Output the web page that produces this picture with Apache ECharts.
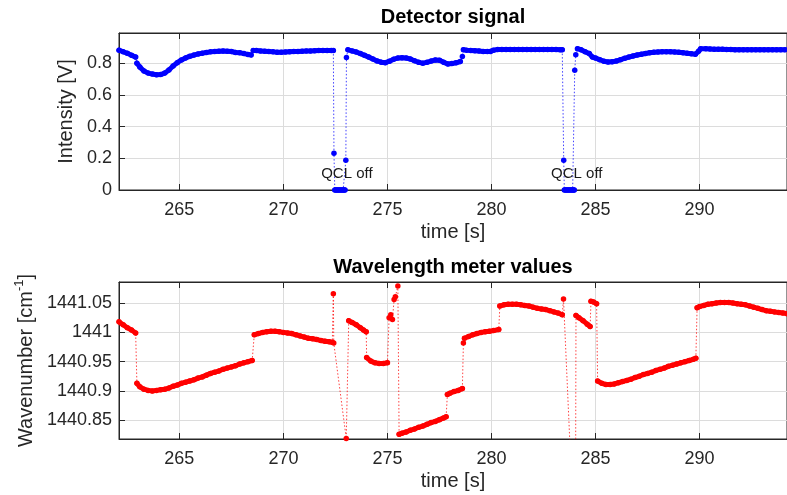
<!DOCTYPE html>
<html>
<head>
<meta charset="utf-8">
<script src="https://cdn.jsdelivr.net/npm/echarts@6/dist/echarts.min.js"></script>
<style>html,body{margin:0;padding:0;background:#fff}#c{width:787px;height:495px}</style>
</head>
<body>
<div id="c"></div>
<script>
// ---------- data ----------
const timeRange = [262.1, 294.2];
const intensityRange = [0, 0.99];
const wavenumberRange = [1440.818, 1441.086];

// Detector signal: [time s, intensity V]
const detectorSignal = [
[262.1,0.882],[262.3,0.872],[262.5,0.862],[262.7,0.850],[262.9,0.838],[262.96,0.800],[263.1,0.775],[263.3,0.750],
[263.5,0.737],[263.7,0.731],[263.9,0.727],[264.1,0.728],[264.3,0.737],[264.5,0.757],[264.7,0.782],[264.9,0.803],
[265.1,0.820],[265.3,0.833],[265.5,0.843],[265.7,0.851],[265.9,0.858],[266.1,0.863],[266.3,0.867],[266.5,0.871],
[266.7,0.873],[266.9,0.875],[267.1,0.876],[267.3,0.875],[267.5,0.873],[267.7,0.867],[267.9,0.866],[268.1,0.860],
[268.3,0.855],[268.45,0.852],[268.55,0.880],[268.7,0.879],[268.9,0.877],[269.1,0.875],[269.3,0.873],[269.5,0.871],
[269.7,0.869],[269.9,0.868],[270.1,0.870],[270.3,0.872],[270.5,0.873],[270.7,0.874],[270.9,0.875],[271.1,0.876],
[271.3,0.877],[271.5,0.878],[271.7,0.879],[271.9,0.879],[272.1,0.880],[272.3,0.880],[272.4,0.880],
[272.43,0.232],[272.47,0],[272.52,0],[272.57,0],[272.62,0],[272.67,0],[272.72,0],[272.77,0],[272.82,0],[272.87,0],[272.92,0],[272.96,0],
[273.0,0.187],[273.03,0.836],[273.1,0.884],[273.3,0.877],[273.5,0.870],[273.7,0.860],[273.9,0.849],[274.1,0.838],
[274.3,0.826],[274.5,0.814],[274.7,0.806],[274.9,0.803],[275.1,0.812],[275.3,0.825],[275.5,0.832],[275.7,0.834],
[275.9,0.832],[276.1,0.826],[276.3,0.815],[276.5,0.805],[276.7,0.800],[276.9,0.805],[277.1,0.813],[277.3,0.820],
[277.5,0.818],[277.7,0.805],[277.9,0.795],[278.1,0.797],[278.3,0.802],[278.5,0.810],[278.6,0.842],[278.65,0.884],
[278.8,0.882],[279.0,0.880],[279.2,0.878],[279.4,0.876],[279.6,0.874],[279.8,0.873],[279.95,0.874],[280.1,0.882],
[280.3,0.886],[280.5,0.886],[280.7,0.886],[280.9,0.886],[281.1,0.886],[281.3,0.886],[281.5,0.886],[281.7,0.886],
[281.9,0.886],[282.1,0.886],[282.3,0.886],[282.5,0.886],[282.7,0.886],[282.9,0.886],[283.1,0.886],[283.3,0.885],[283.4,0.885],
[283.47,0.187],[283.5,0],[283.55,0],[283.6,0],[283.65,0],[283.7,0],[283.75,0],[283.8,0],[283.85,0],[283.9,0],[283.95,0],[283.98,0],
[284.0,0.755],[284.05,0.853],[284.13,0.891],[284.3,0.885],[284.5,0.872],[284.7,0.860],[284.85,0.838],[285.0,0.832],
[285.2,0.822],[285.4,0.812],[285.6,0.807],[285.8,0.808],[286.0,0.813],[286.2,0.822],[286.4,0.830],[286.6,0.838],
[286.8,0.845],[287.0,0.851],[287.2,0.856],[287.4,0.861],[287.6,0.865],[287.8,0.868],[288.0,0.870],[288.2,0.872],
[288.4,0.872],[288.6,0.871],[288.8,0.870],[289.0,0.868],[289.2,0.865],[289.4,0.862],[289.6,0.859],[289.8,0.856],
[289.95,0.875],[290.05,0.890],[290.3,0.890],[290.5,0.889],[290.7,0.888],[290.9,0.887],[291.1,0.887],[291.3,0.886],
[291.5,0.886],[291.7,0.885],[291.9,0.885],[292.1,0.885],[292.3,0.885],[292.5,0.885],[292.7,0.885],[292.9,0.885],
[293.1,0.885],[293.3,0.885],[293.5,0.885],[293.7,0.885],[293.9,0.885],[294.1,0.885]
];

// Wavelength meter: [time s, wavenumber cm^-1]
const wavenumber = [
[262.1,1441.018],[262.3,1441.013],[262.5,1441.008],[262.7,1441.004],[262.9,1440.999],
[262.96,1440.913],[263.1,1440.907],[263.3,1440.903],[263.5,1440.901],[263.7,1440.900],[263.9,1440.901],[264.1,1440.902],
[264.3,1440.903],[264.5,1440.905],[264.7,1440.908],[264.9,1440.910],[265.1,1440.913],[265.3,1440.915],[265.5,1440.917],
[265.7,1440.919],[265.9,1440.922],[266.1,1440.924],[266.3,1440.927],[266.5,1440.930],[266.7,1440.932],[266.9,1440.934],
[267.1,1440.937],[267.3,1440.939],[267.5,1440.941],[267.7,1440.943],[267.9,1440.946],[268.1,1440.948],[268.3,1440.950],
[268.5,1440.952],[268.6,1440.996],[268.8,1440.998],[269.0,1441.000],[269.2,1441.001],[269.4,1441.002],[269.6,1441.002],
[269.8,1441.001],[270.0,1441.000],[270.2,1440.999],[270.4,1440.998],[270.6,1440.996],[270.8,1440.994],[271.0,1440.992],
[271.2,1440.990],[271.4,1440.989],[271.6,1440.988],[271.8,1440.986],[272.0,1440.985],[272.2,1440.984],[272.35,1440.983],
[272.4,1441.066],[272.42,1440.982],[273.02,1440.819],
[273.14,1441.020],[273.3,1441.017],[273.5,1441.013],[273.7,1441.008],[273.85,1441.004],[273.98,1441.001],
[274.0,1440.957],[274.2,1440.951],[274.4,1440.948],[274.6,1440.947],[274.8,1440.947],[275.0,1440.948],
[275.08,1441.025],[275.16,1441.030],[275.24,1441.022],[275.32,1441.056],[275.38,1441.061],[275.5,1441.079],
[275.56,1440.826],[275.7,1440.828],[275.9,1440.830],[276.1,1440.833],[276.3,1440.835],[276.5,1440.838],[276.7,1440.840],
[276.9,1440.843],[277.1,1440.846],[277.3,1440.848],[277.5,1440.851],[277.7,1440.854],[277.82,1440.856],
[277.88,1440.894],[278.0,1440.896],[278.2,1440.899],[278.4,1440.901],[278.6,1440.904],
[278.65,1440.982],[278.7,1440.990],[278.9,1440.993],[279.1,1440.996],[279.3,1440.998],[279.5,1441.000],[279.7,1441.001],
[279.9,1441.002],[280.1,1441.003],[280.35,1441.005],
[280.4,1441.045],[280.6,1441.047],[280.8,1441.048],[281.0,1441.048],[281.2,1441.048],[281.4,1441.047],[281.6,1441.046],
[281.8,1441.045],[282.0,1441.043],[282.2,1441.041],[282.4,1441.040],[282.6,1441.039],[282.8,1441.037],[283.0,1441.035],
[283.2,1441.033],[283.4,1441.030],[283.46,1441.057],[284.03,1440.600],
[284.06,1441.029],[284.2,1441.025],[284.4,1441.020],[284.6,1441.014],[284.74,1441.010],
[284.78,1441.053],[284.9,1441.052],[285.05,1441.049],
[285.1,1440.917],[285.3,1440.913],[285.5,1440.911],[285.7,1440.911],[285.9,1440.912],[286.1,1440.914],[286.3,1440.916],
[286.5,1440.918],[286.7,1440.920],[286.9,1440.923],[287.1,1440.925],[287.3,1440.928],[287.5,1440.930],[287.7,1440.932],
[287.9,1440.935],[288.1,1440.937],[288.3,1440.939],[288.5,1440.942],[288.7,1440.944],[288.9,1440.946],[289.1,1440.948],
[289.3,1440.950],[289.5,1440.952],[289.7,1440.954],[289.82,1440.956],
[289.88,1441.042],[290.0,1441.044],[290.2,1441.046],[290.4,1441.048],[290.6,1441.049],[290.8,1441.050],[291.0,1441.051],
[291.2,1441.051],[291.4,1441.051],[291.6,1441.050],[291.8,1441.049],[292.0,1441.048],[292.2,1441.047],[292.4,1441.045],
[292.6,1441.043],[292.8,1441.041],[293.0,1441.039],[293.2,1441.037],[293.4,1441.036],[293.6,1441.035],[293.8,1441.034],
[294.0,1441.033],[294.2,1441.032]
];

// Annotations on the detector plot
const qclNotes = [
  {text: 'QCL off', t: 273.05, v: 0.1},
  {text: 'QCL off', t: 284.1, v: 0.1}
];

const titles = ['Detector signal', 'Wavelength meter values'];
const xLabel = 'time [s]';
const yLabels = ['Intensity [V]', '{n|Wavenumber [cm}{s|-1}{n|]}'];

// ---------- chart ----------
const FONT = 'Liberation Sans, Arial, Helvetica, sans-serif';
const AX = '#262626';
const GRID = '#dcdcdc';
const chart = echarts.init(document.getElementById('c'), null, {renderer: 'canvas'});

// dense-marker look: join runs of neighbouring samples (break where the slope is a jump)
function runs(data, maxSlope) {
  const out = [];
  for (let i = 0; i < data.length; i++) {
    if (i > 0) {
      const dt = data[i][0] - data[i - 1][0];
      const dv = Math.abs(data[i][1] - data[i - 1][1]);
      if (dv / dt > maxSlope) out.push([(data[i][0] + data[i - 1][0]) / 2, null]);
    }
    out.push(data[i]);
  }
  return out;
}

function bottomX(gi) {
  return {
    gridIndex: gi, type: 'value', position: 'bottom',
    min: timeRange[0], max: timeRange[1], splitNumber: 6,
    axisLine: {show: true, onZero: false, lineStyle: {color: AX, width: 1}},
    axisTick: {show: true, inside: true, length: 6, lineStyle: {color: AX}},
    axisLabel: {show: true, showMinLabel: false, showMaxLabel: false, fontSize: 18, color: AX,
      fontFamily: FONT, margin: 11, formatter: v => String(Math.round(v))},
    splitLine: {show: true, lineStyle: {color: GRID, width: 1}},
    name: xLabel, nameLocation: 'middle', nameGap: 32,
    nameTextStyle: {fontSize: 20, color: AX, fontFamily: FONT}
  };
}
function topX(gi, title, gap) {
  return {
    gridIndex: gi, type: 'value', position: 'top',
    min: timeRange[0], max: timeRange[1], splitNumber: 6,
    axisLine: {show: true, onZero: false, lineStyle: {color: AX, width: 1}},
    axisTick: {show: true, inside: true, length: 6, lineStyle: {color: AX}},
    axisLabel: {show: false}, splitLine: {show: false},
    name: title, nameLocation: 'middle', nameGap: gap,
    nameTextStyle: {fontSize: 20, fontWeight: 'bold', color: '#000', fontFamily: FONT}
  };
}

function seriesPair(data, xi, yi, color, maxSlope) {
  return [
    {
      type: 'line', xAxisIndex: xi, yAxisIndex: yi, data: runs(data, maxSlope),
      showSymbol: false, symbol: 'none', clip: true, connectNulls: false, silent: true,
      lineStyle: {color: color, width: 5, cap: 'round', join: 'round'},
      emphasis: {disabled: true}, z: 2
    },
    {
      type: 'line', xAxisIndex: xi, yAxisIndex: yi, data: data,
      symbol: 'circle', symbolSize: 5.5, showSymbol: true, showAllSymbol: true, clip: true,
      itemStyle: {color: color},
      lineStyle: {color: color, width: 1, type: [1.5, 2], opacity: 0.75},
      emphasis: {disabled: true}, z: 3
    }
  ];
}

const sig = seriesPair(detectorSignal, 0, 0, '#0000ff', 0.2);
sig[1].markPoint = {
  symbol: 'circle', symbolSize: 0, silent: true,
  label: {show: true, position: 'inside', formatter: '{b}', fontSize: 15, color: '#1a1a1a', fontFamily: FONT},
  data: qclNotes.map(n => ({name: n.text, coord: [n.t, n.v]}))
};
const wn = seriesPair(wavenumber, 2, 1, '#ff0000', 0.05);

const option = {
  animation: false,
  backgroundColor: '#fff',
  grid: [
    {left: 119, top: 33, width: 674, height: 157, show: true, borderColor: AX, borderWidth: 1, backgroundColor: 'transparent'},
    {left: 119, top: 282, width: 674, height: 157, show: true, borderColor: AX, borderWidth: 1, backgroundColor: 'transparent'}
  ],
  xAxis: [bottomX(0), topX(0, titles[0], 6), bottomX(1), topX(1, titles[1], 5)],
  yAxis: [
    {
      gridIndex: 0, type: 'value', min: intensityRange[0], max: intensityRange[1], splitNumber: 5,
      axisLine: {show: true, onZero: false, lineStyle: {color: AX}},
      axisTick: {show: true, inside: true, length: 6, lineStyle: {color: AX}},
      axisLabel: {showMaxLabel: false, fontSize: 18, color: AX, fontFamily: FONT, margin: 7,
        formatter: v => String(+v.toFixed(2))},
      splitLine: {show: true, lineStyle: {color: GRID}},
      name: yLabels[0], nameLocation: 'middle', nameRotate: 90, nameGap: 33,
      nameTextStyle: {fontSize: 20, color: AX, fontFamily: FONT}
    },
    {
      gridIndex: 1, type: 'value', min: wavenumberRange[0], max: wavenumberRange[1], splitNumber: 5,
      axisLine: {show: true, onZero: false, lineStyle: {color: AX}},
      axisTick: {show: true, inside: true, length: 6, lineStyle: {color: AX}},
      axisLabel: {showMinLabel: false, showMaxLabel: false, fontSize: 18, color: AX, fontFamily: FONT, margin: 7,
        formatter: v => String(+v.toFixed(2))},
      splitLine: {show: true, lineStyle: {color: GRID}},
      name: yLabels[1], nameLocation: 'middle', nameRotate: 90, nameGap: 78,
      nameTextStyle: {fontSize: 20, color: AX, fontFamily: FONT,
        rich: {
          n: {fontSize: 20, color: AX, fontFamily: FONT, lineHeight: 26},
          s: {fontSize: 13, color: AX, fontFamily: FONT, verticalAlign: 'top', lineHeight: 26}
        }}
    }
  ],
  series: sig.concat(wn)
};
chart.setOption(option);
</script>
</body>
</html>
